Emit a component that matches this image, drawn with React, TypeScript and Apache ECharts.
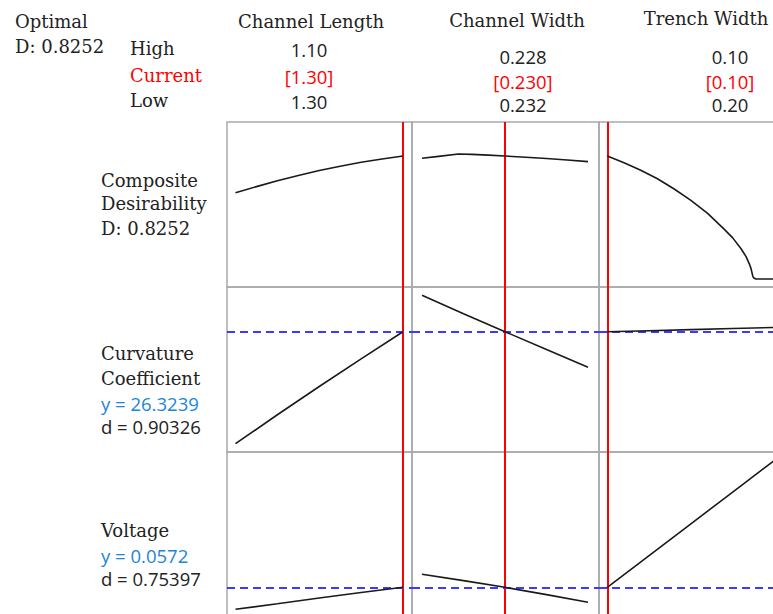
import { useEffect, useRef } from "react";
import * as echarts from "echarts";

// Factor settings (left end of each axis = "High" row, right end = "Low" row)
const factorNames = ["Channel Length", "Channel Width", "Trench Width"];
const highSettings = [1.1, 0.228, 0.1];
const currentSettings = [1.3, 0.23, 0.1];
const lowSettings = [1.3, 0.232, 0.2];
const settingDecimals = [2, 3, 2];

// Responses at the current setting
const compositeD = 0.8252;
const responseTitles = [["Curvature", "Coefficient"], ["Voltage"]];
const responseY = [26.3239, 0.0572];
const responseYText = ["26.3239", "0.0572"];
const responseD = ["0.90326", "0.75397"];

// Composite desirability traces
const lengthFine = [1.1, 1.125, 1.15, 1.175, 1.2, 1.225, 1.25, 1.275, 1.3];
const compositeByLength = [0.579, 0.62, 0.659, 0.695, 0.728, 0.757, 0.783, 0.805, 0.8252];
const widthFine = [0.228, 0.2284, 0.22888, 0.2292, 0.2296, 0.23, 0.2305, 0.231, 0.2315, 0.232];
const compositeByWidth = [0.81, 0.823, 0.839, 0.8365, 0.8315, 0.8252, 0.8175, 0.809, 0.799, 0.7875];
const trenchFine = [0.1, 0.11, 0.12, 0.13, 0.14, 0.15, 0.16, 0.17, 0.175, 0.18, 0.183, 0.185, 0.186, 0.187, 0.1875, 0.1888, 0.2];
const compositeByTrench = [0.8252, 0.78, 0.73, 0.673, 0.604, 0.528, 0.44, 0.333, 0.276, 0.203, 0.15, 0.1, 0.068, 0.02, 0.008, 0, 0];

// Response traces
const lengthLevels = [1.1, 1.15, 1.2, 1.25, 1.3];
const widthLevels = [0.228, 0.229, 0.23, 0.231, 0.232];
const trenchLevels = [0.1, 0.125, 0.15, 0.175, 0.2];
const curvatureByLength = [18.0, 20.15, 22.25, 24.3, 26.3239];
const curvatureByWidth = [29.03, 27.66, 26.3239, 25.0, 23.68];
const curvatureByTrench = [26.3239, 26.4, 26.48, 26.56, 26.64];
const voltageByLength = [0.05, 0.0518, 0.0537, 0.0555, 0.0572];
const voltageByWidth = [0.0615, 0.0594, 0.0572, 0.0548, 0.0523];
const voltageByTrench = [0.0572, 0.0676, 0.078, 0.0884, 0.0988];

const traces: [number[], number[]][][] = [
  [[lengthFine, compositeByLength], [widthFine, compositeByWidth], [trenchFine, compositeByTrench]],
  [[lengthLevels, curvatureByLength], [widthLevels, curvatureByWidth], [trenchLevels, curvatureByTrench]],
  [[lengthLevels, voltageByLength], [widthLevels, voltageByWidth], [trenchLevels, voltageByTrench]],
];

// Panel boxes in pixels: outer frame and the inner span used by the data
const cols = [
  { L: 227, R: 412, a: 235.5, b: 403 },
  { L: 412, R: 599, a: 422, b: 588 },
  { L: 599, R: 786, a: 607.3, b: 774.5 },
];
const rows = [
  { T: 122, B: 287, top: 130, bot: 279 },
  { T: 287, B: 452, top: 295.3, bot: 443.7 },
  { T: 452, B: 618, top: 460.3, bot: 609.3 },
];

const SERIF = '"DejaVu Serif", serif';
const SANS = '"Open Sans", sans-serif';
const INK = "#222222";
const RED = "#ff0000";
const BLUE = "#1c86d6";

function buildOption() {
  const grid: any[] = [];
  const xAxis: any[] = [];
  const yAxis: any[] = [];
  const series: any[] = [];

  rows.forEach((row, r) => {
    let vlo = 0;
    let vhi = 1;
    if (r > 0) {
      const all = traces[r].flatMap((t) => t[1]);
      vlo = Math.min(...all);
      vhi = Math.max(...all);
    }
    const t = (vhi - vlo) / (row.bot - row.top);
    const ymin = vlo - (row.B - row.bot) * t;
    const ymax = vhi + (row.top - row.T) * t;

    cols.forEach((col, c) => {
      const g = r * 3 + c;
      const lo = highSettings[c];
      const hi = lowSettings[c];
      const s = (hi - lo) / (col.b - col.a);
      grid.push({
        left: col.L,
        top: row.T,
        width: col.R - col.L,
        height: row.B - row.T,
        show: true,
        borderColor: "#a9a9a9",
        borderWidth: 1.5,
        backgroundColor: "transparent",
      });
      xAxis.push({
        type: "value",
        gridIndex: g,
        min: lo - (col.a - col.L) * s,
        max: hi + (col.R - col.b) * s,
        axisLine: { show: false },
        axisTick: { show: false },
        axisLabel: { show: false },
        splitLine: { show: false },
      });
      yAxis.push({
        type: "value",
        gridIndex: g,
        min: ymin,
        max: ymax,
        axisLine: { show: false },
        axisTick: { show: false },
        axisLabel: { show: false },
        splitLine: { show: false },
      });
      const [xs, ys] = traces[r][c];
      const markData: any[] = [{ xAxis: currentSettings[c], lineStyle: { color: RED, width: 2, type: "solid" } }];
      if (r > 0) {
        markData.push({ yAxis: responseY[r - 1], lineStyle: { color: "#3b3bff", width: 2, type: [8, 5] } });
      }
      series.push({
        type: "line",
        xAxisIndex: g,
        yAxisIndex: g,
        data: xs.map((x, i) => [x, ys[i]]),
        symbol: "none",
        lineStyle: { color: "#1a1a1a", width: 1.6 },
        silent: true,
        z: 3,
        markLine: {
          silent: true,
          precision: 6,
          symbol: ["none", "none"],
          label: { show: false },
          data: markData,
          z: 2,
        },
      });
    });
  });

  const txt = (text: string, x: number, y: number, font: string, fill = INK, align = "left") => ({
    type: "text",
    x,
    y,
    silent: true,
    style: { text, font, fill, textAlign: align, textVerticalAlign: "bottom" },
  });

  const serif = `18px ${SERIF}`;
  const sans = `18.5px ${SANS}`;
  const graphic: any[] = [
    txt("Optimal", 15, 30, serif),
    txt(`D: ${compositeD.toFixed(4)}`, 15, 55, serif),
    txt("High", 130, 57, serif),
    txt("Current", 130, 84, serif, RED),
    txt("Low", 130, 109, serif),
    txt(factorNames[0], 311, 30, serif, INK, "center"),
    txt(factorNames[1], 517, 29, serif, INK, "center"),
    txt(factorNames[2], 706, 27, serif, INK, "center"),
  ];
  const headerX = [309, 523, 730];
  const headerY = [
    [59, 86, 111],
    [66, 91, 114],
    [66, 91, 114],
  ];
  factorNames.forEach((_, c) => {
    const d = settingDecimals[c];
    graphic.push(txt(highSettings[c].toFixed(d), headerX[c], headerY[c][0], sans, INK, "center"));
    graphic.push(txt(`[${currentSettings[c].toFixed(d)}]`, headerX[c], headerY[c][1], sans, RED, "center"));
    graphic.push(txt(lowSettings[c].toFixed(d), headerX[c], headerY[c][2], sans, INK, "center"));
  });

  graphic.push(txt("Composite", 101, 189, serif));
  graphic.push(txt("Desirability", 101, 212, serif));
  graphic.push(txt(`D: ${compositeD.toFixed(4)}`, 101, 237, serif));

  const titleBase = [362, 539];
  responseTitles.forEach((lines, i) => {
    let y = titleBase[i];
    lines.forEach((line) => {
      graphic.push(txt(line, 101, y, serif));
      y += 25;
    });
    graphic.push(txt(`y = ${responseYText[i]}`, 101, y + 1, sans, BLUE));
    graphic.push(txt(`d = ${responseD[i]}`, 101, y + 24, sans));
  });

  return {
    animation: false,
    backgroundColor: "#ffffff",
    grid,
    xAxis,
    yAxis,
    series,
    graphic,
  };
}

export default function App() {
  const ref = useRef<HTMLDivElement>(null);
  useEffect(() => {
    if (!ref.current) return;
    const chart = echarts.init(ref.current, null, { renderer: "svg" });
    chart.setOption(buildOption() as any);
    return () => chart.dispose();
  }, []);
  return (
    <div
      style={{ position: "fixed", left: 0, top: 0, width: 773, height: 614, overflow: "hidden", background: "#fff" }}
    >
      <div ref={ref} style={{ width: 800, height: 630 }} />
    </div>
  );
}
